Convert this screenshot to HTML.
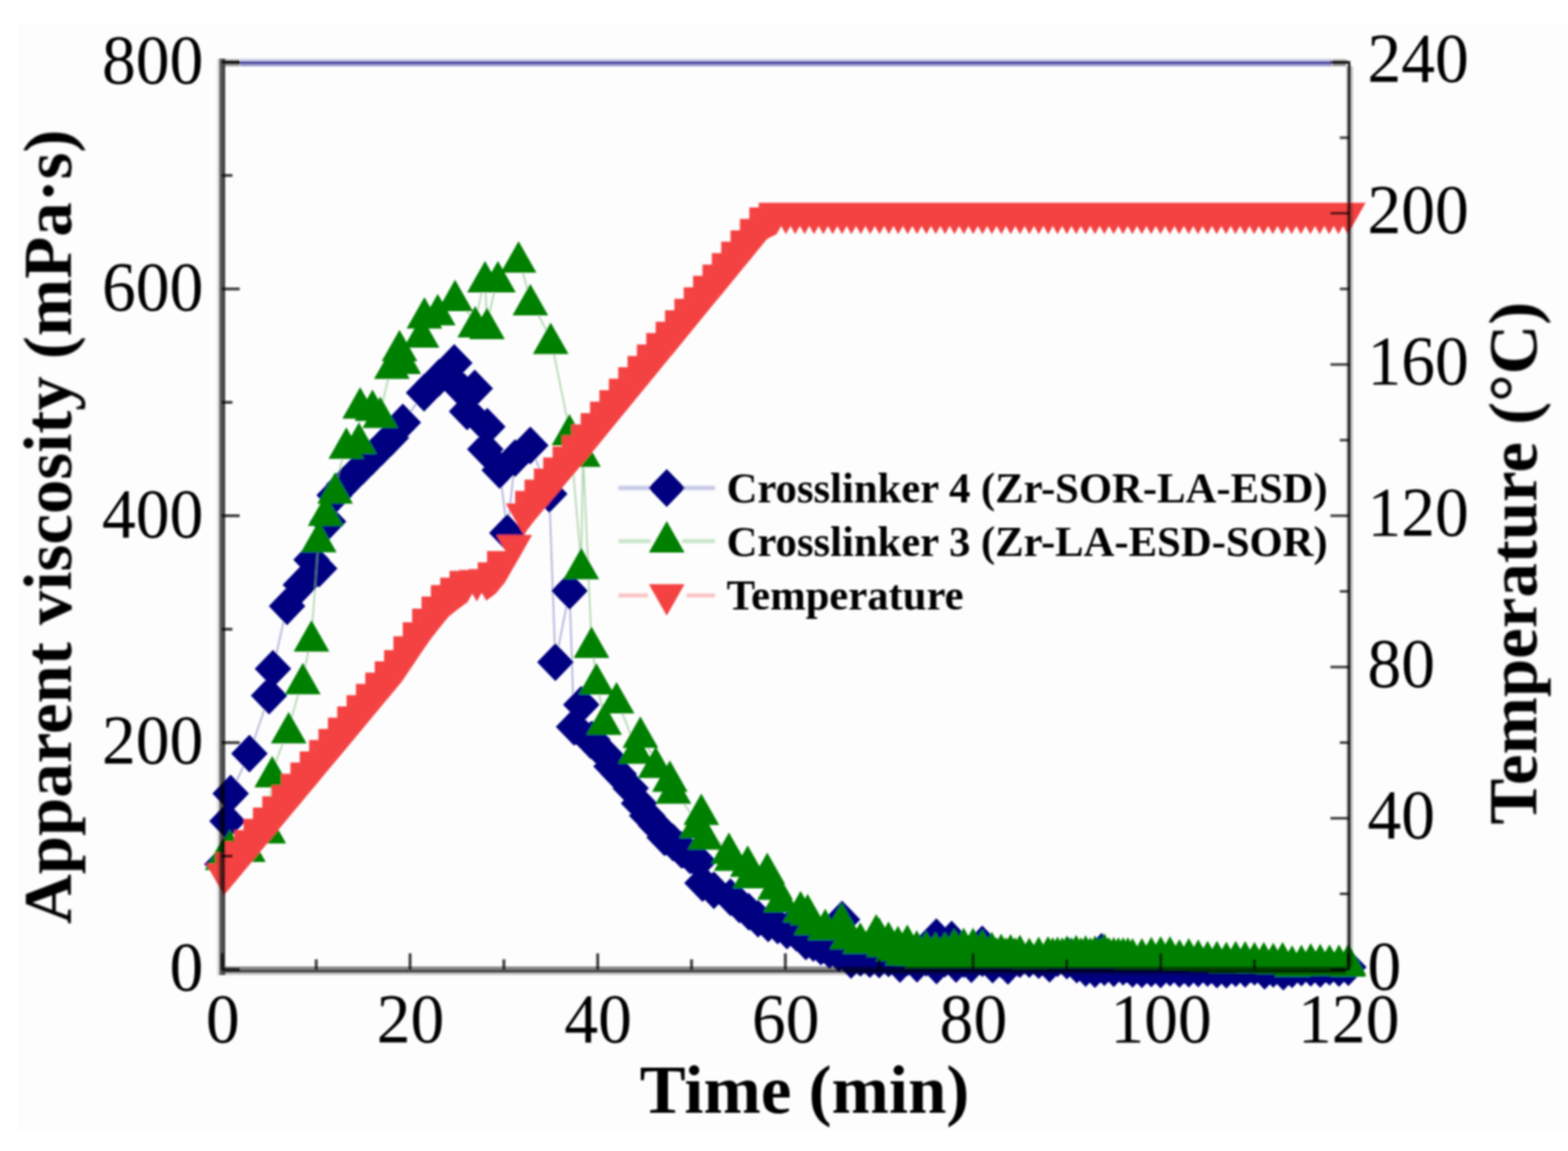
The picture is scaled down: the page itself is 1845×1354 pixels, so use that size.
<!DOCTYPE html>
<html><head><meta charset="utf-8"><title>Viscosity and temperature vs time</title>
<style>
html,body{margin:0;padding:0;background:#fff;}
body{width:1845px;height:1354px;overflow:hidden;}
svg{display:block;}
text{font-family:"Liberation Serif","Times New Roman",serif;fill:#000;}
</style></head><body>
<svg width="1845" height="1354" viewBox="0 0 1845 1354">
<rect x="0" y="0" width="1845" height="1354" fill="#fff"/>
<defs><filter id="soft"><feGaussianBlur stdDeviation="1.0"/></filter></defs>
<rect x="21" y="29" width="1824" height="1301" fill="#fdfdfd"/>
<g filter="url(#soft)">

<path d="M261.7 1016.8L267.7 965.9L271.4 933.6L293.5 886.5L316.6 818.3L321.2 786.8L337.8 713.1L354.0 688.0L366.6 658.4L375.6 668.7L386.0 613.6L393.8 582.6L405.0 570.0L416.0 559.0L427.0 548.0L438.0 537.0L449.0 526.0L460.0 515.0L474.0 497.0L499.0 462.0L516.5 444.5L534.5 427.0L543.0 458.0L549.6 484.0L558.6 457.0L571.0 528.5L573.4 502.0L588.0 553.0L597.0 627.0L606.0 539.0L624.0 524.0L646.3 581.0L653.5 779.0L670.2 695.0L675.5 855.0L684.0 829.0L695.0 870.8L697.0 870.0L714.0 889.3L719.5 901.5L728.0 910.6L742.0 927.3L752.0 945.1L761.5 959.5L772.0 971.2L782.0 985.0L792.0 991.1L802.0 999.7L812.0 1006.3L822.0 1013.4L826.6 1038.7L840.0 1047.3L859.5 1055.5L870.0 1063.9L881.0 1072.5L892.0 1080.8L903.9 1086.3L915.0 1088.6L926.0 1094.6L937.0 1097.2L948.2 1107.4L957.0 1109.2L965.9 1113.4L976.0 1117.5L987.0 1121.2L990.8 1081.7L1001.4 1129.3L1012.4 1126.7L1023.5 1128.3L1034.5 1128.6L1045.5 1127.5L1056.6 1128.2L1059.0 1133.9L1067.6 1126.3L1078.7 1126.2L1079.0 1133.7L1089.7 1126.8L1100.7 1128.7L1101.8 1102.6L1102.0 1135.8L1111.8 1127.7L1119.8 1105.4L1122.8 1127.3L1125.0 1133.9L1133.9 1128.3L1143.0 1134.2L1144.9 1127.8L1155.8 1111.1L1155.9 1127.2L1167.0 1129.2L1168.0 1134.7L1178.0 1128.8L1186.0 1136.1L1189.1 1127.0L1198.5 1127.0L1200.1 1128.3L1211.1 1128.1L1222.2 1129.5L1233.2 1128.9L1235.0 1133.7L1244.3 1127.2L1255.3 1129.9L1256.4 1124.4L1266.3 1126.5L1267.0 1134.8L1277.4 1138.7L1284.0 1135.1L1288.4 1140.0L1296.2 1119.7L1299.5 1137.6L1310.5 1139.0L1321.5 1137.2L1332.6 1139.7L1343.6 1140.1L1354.7 1139.3L1365.7 1140.5L1376.7 1138.3L1387.8 1139.8L1398.8 1139.4L1409.9 1139.3L1420.9 1138.8L1431.9 1140.4L1443.0 1140.8L1454.0 1138.9L1465.1 1139.7L1476.1 1137.2L1487.1 1139.8L1488.0 1142.0L1498.2 1139.6L1509.2 1141.0L1510.0 1143.0L1520.3 1140.3L1531.3 1138.1L1542.3 1138.5L1553.4 1139.7L1564.4 1137.1L1575.5 1138.8L1586.5 1137.7" fill="none" stroke="#8080c8" stroke-width="2" stroke-opacity="0.6"/>
<path fill="#000080" d="M261.7 994.5L283.2 1016.8L261.7 1039.1L240.2 1016.8ZM267.7 943.6L289.2 965.9L267.7 988.2L246.2 965.9ZM271.4 911.3L292.9 933.6L271.4 955.9L249.9 933.6ZM293.5 864.2L315.0 886.5L293.5 908.8L272.0 886.5ZM316.6 796.0L338.1 818.3L316.6 840.6L295.1 818.3ZM321.2 764.5L342.7 786.8L321.2 809.1L299.7 786.8ZM337.8 690.8L359.3 713.1L337.8 735.4L316.3 713.1ZM354.0 665.7L375.5 688.0L354.0 710.3L332.5 688.0ZM366.6 636.1L388.1 658.4L366.6 680.7L345.1 658.4ZM375.6 646.4L397.1 668.7L375.6 691.0L354.1 668.7ZM386.0 591.3L407.5 613.6L386.0 635.9L364.5 613.6ZM393.8 560.3L415.3 582.6L393.8 604.9L372.3 582.6ZM405.0 547.7L426.5 570.0L405.0 592.3L383.5 570.0ZM416.0 536.7L437.5 559.0L416.0 581.3L394.5 559.0ZM427.0 525.7L448.5 548.0L427.0 570.3L405.5 548.0ZM438.0 514.7L459.5 537.0L438.0 559.3L416.5 537.0ZM449.0 503.7L470.5 526.0L449.0 548.3L427.5 526.0ZM460.0 492.7L481.5 515.0L460.0 537.3L438.5 515.0ZM474.0 474.7L495.5 497.0L474.0 519.3L452.5 497.0ZM499.0 439.7L520.5 462.0L499.0 484.3L477.5 462.0ZM516.5 422.2L538.0 444.5L516.5 466.8L495.0 444.5ZM534.5 404.7L556.0 427.0L534.5 449.3L513.0 427.0ZM543.0 435.7L564.5 458.0L543.0 480.3L521.5 458.0ZM549.6 461.7L571.1 484.0L549.6 506.3L528.1 484.0ZM558.6 434.7L580.1 457.0L558.6 479.3L537.1 457.0ZM571.0 506.2L592.5 528.5L571.0 550.8L549.5 528.5ZM573.4 479.7L594.9 502.0L573.4 524.3L551.9 502.0ZM588.0 530.7L609.5 553.0L588.0 575.3L566.5 553.0ZM597.0 604.7L618.5 627.0L597.0 649.3L575.5 627.0ZM606.0 516.7L627.5 539.0L606.0 561.3L584.5 539.0ZM624.0 501.7L645.5 524.0L624.0 546.3L602.5 524.0ZM646.3 558.7L667.8 581.0L646.3 603.3L624.8 581.0ZM653.5 756.7L675.0 779.0L653.5 801.3L632.0 779.0ZM670.2 672.7L691.7 695.0L670.2 717.3L648.7 695.0ZM675.5 832.7L697.0 855.0L675.5 877.3L654.0 855.0ZM684.0 806.7L705.5 829.0L684.0 851.3L662.5 829.0ZM695.0 848.5L716.5 870.8L695.0 893.1L673.5 870.8ZM697.0 847.7L718.5 870.0L697.0 892.3L675.5 870.0ZM714.0 867.0L735.5 889.3L714.0 911.6L692.5 889.3ZM719.5 879.2L741.0 901.5L719.5 923.8L698.0 901.5ZM728.0 888.3L749.5 910.6L728.0 932.9L706.5 910.6ZM742.0 905.0L763.5 927.3L742.0 949.6L720.5 927.3ZM752.0 922.8L773.5 945.1L752.0 967.4L730.5 945.1ZM761.5 937.2L783.0 959.5L761.5 981.8L740.0 959.5ZM772.0 948.9L793.5 971.2L772.0 993.5L750.5 971.2ZM782.0 962.7L803.5 985.0L782.0 1007.3L760.5 985.0ZM792.0 968.8L813.5 991.1L792.0 1013.4L770.5 991.1ZM802.0 977.4L823.5 999.7L802.0 1022.0L780.5 999.7ZM812.0 984.0L833.5 1006.3L812.0 1028.6L790.5 1006.3ZM822.0 991.1L843.5 1013.4L822.0 1035.7L800.5 1013.4ZM826.6 1016.4L848.1 1038.7L826.6 1061.0L805.1 1038.7ZM840.0 1025.0L861.5 1047.3L840.0 1069.6L818.5 1047.3ZM859.5 1033.2L881.0 1055.5L859.5 1077.8L838.0 1055.5ZM870.0 1041.6L891.5 1063.9L870.0 1086.2L848.5 1063.9ZM881.0 1050.2L902.5 1072.5L881.0 1094.8L859.5 1072.5ZM892.0 1058.5L913.5 1080.8L892.0 1103.1L870.5 1080.8ZM903.9 1064.0L925.4 1086.3L903.9 1108.6L882.4 1086.3ZM915.0 1066.3L936.5 1088.6L915.0 1110.9L893.5 1088.6ZM926.0 1072.3L947.5 1094.6L926.0 1116.9L904.5 1094.6ZM937.0 1074.9L958.5 1097.2L937.0 1119.5L915.5 1097.2ZM948.2 1085.1L969.7 1107.4L948.2 1129.7L926.7 1107.4ZM957.0 1086.9L978.5 1109.2L957.0 1131.5L935.5 1109.2ZM965.9 1091.1L987.4 1113.4L965.9 1135.7L944.4 1113.4ZM976.0 1095.2L997.5 1117.5L976.0 1139.8L954.5 1117.5ZM987.0 1098.9L1008.5 1121.2L987.0 1143.5L965.5 1121.2ZM990.8 1059.4L1012.3 1081.7L990.8 1104.0L969.3 1081.7ZM1001.4 1107.0L1022.9 1129.3L1001.4 1151.6L979.9 1129.3ZM1012.4 1104.4L1033.9 1126.7L1012.4 1149.0L990.9 1126.7ZM1023.5 1106.0L1045.0 1128.3L1023.5 1150.6L1002.0 1128.3ZM1034.5 1106.3L1056.0 1128.6L1034.5 1150.9L1013.0 1128.6ZM1045.5 1105.2L1067.0 1127.5L1045.5 1149.8L1024.0 1127.5ZM1056.6 1105.9L1078.1 1128.2L1056.6 1150.5L1035.1 1128.2ZM1059.0 1111.6L1080.5 1133.9L1059.0 1156.2L1037.5 1133.9ZM1067.6 1104.0L1089.1 1126.3L1067.6 1148.6L1046.1 1126.3ZM1078.7 1103.9L1100.2 1126.2L1078.7 1148.5L1057.2 1126.2ZM1079.0 1111.4L1100.5 1133.7L1079.0 1156.0L1057.5 1133.7ZM1089.7 1104.5L1111.2 1126.8L1089.7 1149.1L1068.2 1126.8ZM1100.7 1106.4L1122.2 1128.7L1100.7 1151.0L1079.2 1128.7ZM1101.8 1080.3L1123.3 1102.6L1101.8 1124.9L1080.3 1102.6ZM1102.0 1113.5L1123.5 1135.8L1102.0 1158.1L1080.5 1135.8ZM1111.8 1105.4L1133.3 1127.7L1111.8 1150.0L1090.3 1127.7ZM1119.8 1083.1L1141.3 1105.4L1119.8 1127.7L1098.3 1105.4ZM1122.8 1105.0L1144.3 1127.3L1122.8 1149.6L1101.3 1127.3ZM1125.0 1111.6L1146.5 1133.9L1125.0 1156.2L1103.5 1133.9ZM1133.9 1106.0L1155.4 1128.3L1133.9 1150.6L1112.4 1128.3ZM1143.0 1111.9L1164.5 1134.2L1143.0 1156.5L1121.5 1134.2ZM1144.9 1105.5L1166.4 1127.8L1144.9 1150.1L1123.4 1127.8ZM1155.8 1088.8L1177.3 1111.1L1155.8 1133.4L1134.3 1111.1ZM1155.9 1104.9L1177.4 1127.2L1155.9 1149.5L1134.4 1127.2ZM1167.0 1106.9L1188.5 1129.2L1167.0 1151.5L1145.5 1129.2ZM1168.0 1112.4L1189.5 1134.7L1168.0 1157.0L1146.5 1134.7ZM1178.0 1106.5L1199.5 1128.8L1178.0 1151.1L1156.5 1128.8ZM1186.0 1113.8L1207.5 1136.1L1186.0 1158.4L1164.5 1136.1ZM1189.1 1104.7L1210.6 1127.0L1189.1 1149.3L1167.6 1127.0ZM1198.5 1104.7L1220.0 1127.0L1198.5 1149.3L1177.0 1127.0ZM1200.1 1106.0L1221.6 1128.3L1200.1 1150.6L1178.6 1128.3ZM1211.1 1105.8L1232.6 1128.1L1211.1 1150.4L1189.6 1128.1ZM1222.2 1107.2L1243.7 1129.5L1222.2 1151.8L1200.7 1129.5ZM1233.2 1106.6L1254.7 1128.9L1233.2 1151.2L1211.7 1128.9ZM1235.0 1111.4L1256.5 1133.7L1235.0 1156.0L1213.5 1133.7ZM1244.3 1104.9L1265.8 1127.2L1244.3 1149.5L1222.8 1127.2ZM1255.3 1107.6L1276.8 1129.9L1255.3 1152.2L1233.8 1129.9ZM1256.4 1102.1L1277.9 1124.4L1256.4 1146.7L1234.9 1124.4ZM1266.3 1104.2L1287.8 1126.5L1266.3 1148.8L1244.8 1126.5ZM1267.0 1112.5L1288.5 1134.8L1267.0 1157.1L1245.5 1134.8ZM1277.4 1116.4L1298.9 1138.7L1277.4 1161.0L1255.9 1138.7ZM1284.0 1112.8L1305.5 1135.1L1284.0 1157.4L1262.5 1135.1ZM1288.4 1117.7L1309.9 1140.0L1288.4 1162.3L1266.9 1140.0ZM1296.2 1097.4L1317.7 1119.7L1296.2 1142.0L1274.7 1119.7ZM1299.5 1115.3L1321.0 1137.6L1299.5 1159.9L1278.0 1137.6ZM1310.5 1116.7L1332.0 1139.0L1310.5 1161.3L1289.0 1139.0ZM1321.5 1114.9L1343.0 1137.2L1321.5 1159.5L1300.0 1137.2ZM1332.6 1117.4L1354.1 1139.7L1332.6 1162.0L1311.1 1139.7ZM1343.6 1117.8L1365.1 1140.1L1343.6 1162.4L1322.1 1140.1ZM1354.7 1117.0L1376.2 1139.3L1354.7 1161.6L1333.2 1139.3ZM1365.7 1118.2L1387.2 1140.5L1365.7 1162.8L1344.2 1140.5ZM1376.7 1116.0L1398.2 1138.3L1376.7 1160.6L1355.2 1138.3ZM1387.8 1117.5L1409.3 1139.8L1387.8 1162.1L1366.3 1139.8ZM1398.8 1117.1L1420.3 1139.4L1398.8 1161.7L1377.3 1139.4ZM1409.9 1117.0L1431.4 1139.3L1409.9 1161.6L1388.4 1139.3ZM1420.9 1116.5L1442.4 1138.8L1420.9 1161.1L1399.4 1138.8ZM1431.9 1118.1L1453.4 1140.4L1431.9 1162.7L1410.4 1140.4ZM1443.0 1118.5L1464.5 1140.8L1443.0 1163.1L1421.5 1140.8ZM1454.0 1116.6L1475.5 1138.9L1454.0 1161.2L1432.5 1138.9ZM1465.1 1117.4L1486.6 1139.7L1465.1 1162.0L1443.6 1139.7ZM1476.1 1114.9L1497.6 1137.2L1476.1 1159.5L1454.6 1137.2ZM1487.1 1117.5L1508.6 1139.8L1487.1 1162.1L1465.6 1139.8ZM1488.0 1119.7L1509.5 1142.0L1488.0 1164.3L1466.5 1142.0ZM1498.2 1117.3L1519.7 1139.6L1498.2 1161.9L1476.7 1139.6ZM1509.2 1118.7L1530.7 1141.0L1509.2 1163.3L1487.7 1141.0ZM1510.0 1120.7L1531.5 1143.0L1510.0 1165.3L1488.5 1143.0ZM1520.3 1118.0L1541.8 1140.3L1520.3 1162.6L1498.8 1140.3ZM1531.3 1115.8L1552.8 1138.1L1531.3 1160.4L1509.8 1138.1ZM1542.3 1116.2L1563.8 1138.5L1542.3 1160.8L1520.8 1138.5ZM1553.4 1117.4L1574.9 1139.7L1553.4 1162.0L1531.9 1139.7ZM1564.4 1114.8L1585.9 1137.1L1564.4 1159.4L1542.9 1137.1ZM1575.5 1116.5L1597.0 1138.8L1575.5 1161.1L1554.0 1138.8ZM1586.5 1115.4L1608.0 1137.7L1586.5 1160.0L1565.0 1137.7Z"/>
<path d="M262.0 1005.0L270.5 994.3L291.7 995.5L315.7 973.7L320.3 907.7L339.7 856.0L356.3 798.2L366.5 748.0L375.1 631.3L383.2 600.3L394.3 574.0L407.5 521.3L422.3 515.4L423.8 474.0L438.3 476.8L447.5 485.0L461.1 427.3L470.1 406.6L474.5 421.6L496.0 390.5L499.4 367.9L515.1 364.2L535.4 347.5L559.2 378.6L570.7 325.4L573.0 380.5L585.9 325.4L610.2 302.3L624.0 352.6L648.0 398.0L670.0 505.6L684.0 663.0L685.9 530.8L696.0 755.5L701.8 798.5L710.8 845.9L725.5 820.7L748.0 880.0L753.5 861.3L771.5 896.7L788.2 913.0L792.4 927.0L820.0 967.5L825.2 952.1L830.0 981.0L857.7 997.8L861.0 1006.0L879.8 1013.0L883.0 1026.5L902.8 1021.5L912.0 1040.0L919.0 1054.8L942.0 1066.6L950.3 1069.9L955.0 1081.4L971.0 1087.5L990.3 1080.0L997.0 1098.3L1012.3 1103.5L1031.0 1093.7L1034.5 1097.8L1040.0 1107.3L1045.5 1102.5L1051.1 1112.2L1056.6 1107.6L1062.1 1117.2L1067.6 1105.9L1073.1 1117.8L1078.7 1112.8L1084.2 1121.0L1089.7 1113.4L1095.2 1121.0L1100.7 1114.8L1106.3 1121.0L1111.8 1114.4L1117.3 1121.0L1122.8 1110.4L1128.3 1121.0L1133.9 1109.8L1139.4 1121.0L1144.9 1109.7L1150.4 1121.0L1155.9 1111.5L1161.5 1121.0L1167.0 1114.4L1172.5 1121.0L1178.0 1116.7L1183.5 1121.0L1189.1 1117.3L1194.6 1121.0L1200.1 1118.0L1211.1 1121.5L1222.2 1120.3L1233.2 1119.8L1238.7 1121.0L1244.3 1120.2L1249.8 1121.0L1255.3 1119.0L1260.8 1121.0L1266.3 1118.3L1271.9 1121.0L1277.4 1118.7L1282.9 1121.0L1288.4 1118.9L1293.9 1121.0L1299.5 1116.6L1305.0 1121.0L1310.5 1120.8L1316.0 1121.0L1321.5 1121.1L1327.1 1121.0L1332.6 1122.0L1343.6 1122.1L1354.7 1120.4L1365.7 1119.8L1376.7 1119.8L1387.8 1123.2L1398.8 1122.1L1409.9 1123.4L1420.9 1125.2L1431.9 1125.3L1443.0 1126.2L1454.0 1125.3L1465.1 1125.5L1476.1 1126.6L1487.1 1126.4L1498.2 1127.5L1509.2 1126.6L1520.3 1130.5L1531.3 1129.7L1542.3 1128.1L1553.4 1128.7L1564.4 1129.4L1575.5 1129.5L1586.3 1130.5L1586.5 1128.5" fill="none" stroke="#80c080" stroke-width="2" stroke-opacity="0.6"/>
<path fill="#008000" d="M262.0 986.5L283.0 1023.5L241.0 1023.5ZM270.5 975.8L291.5 1012.8L249.5 1012.8ZM291.7 977.0L312.7 1014.0L270.7 1014.0ZM315.7 955.2L336.7 992.2L294.7 992.2ZM320.3 889.2L341.3 926.2L299.3 926.2ZM339.7 837.5L360.7 874.5L318.7 874.5ZM356.3 779.7L377.3 816.7L335.3 816.7ZM366.5 729.5L387.5 766.5L345.5 766.5ZM375.1 612.8L396.1 649.8L354.1 649.8ZM383.2 581.8L404.2 618.8L362.2 618.8ZM394.3 555.5L415.3 592.5L373.3 592.5ZM407.5 502.8L428.5 539.8L386.5 539.8ZM422.3 496.9L443.3 533.9L401.3 533.9ZM423.8 455.5L444.8 492.5L402.8 492.5ZM438.3 458.3L459.3 495.3L417.3 495.3ZM447.5 466.5L468.5 503.5L426.5 503.5ZM461.1 408.8L482.1 445.8L440.1 445.8ZM470.1 388.1L491.1 425.1L449.1 425.1ZM474.5 403.1L495.5 440.1L453.5 440.1ZM496.0 372.0L517.0 409.0L475.0 409.0ZM499.4 349.4L520.4 386.4L478.4 386.4ZM515.1 345.7L536.1 382.7L494.1 382.7ZM535.4 329.0L556.4 366.0L514.4 366.0ZM559.2 360.1L580.2 397.1L538.2 397.1ZM570.7 306.9L591.7 343.9L549.7 343.9ZM573.0 362.0L594.0 399.0L552.0 399.0ZM585.9 306.9L606.9 343.9L564.9 343.9ZM610.2 283.8L631.2 320.8L589.2 320.8ZM624.0 334.1L645.0 371.1L603.0 371.1ZM648.0 379.5L669.0 416.5L627.0 416.5ZM670.0 487.1L691.0 524.1L649.0 524.1ZM684.0 644.5L705.0 681.5L663.0 681.5ZM685.9 512.3L706.9 549.3L664.9 549.3ZM696.0 737.0L717.0 774.0L675.0 774.0ZM701.8 780.0L722.8 817.0L680.8 817.0ZM710.8 827.4L731.8 864.4L689.8 864.4ZM725.5 802.2L746.5 839.2L704.5 839.2ZM748.0 861.5L769.0 898.5L727.0 898.5ZM753.5 842.8L774.5 879.8L732.5 879.8ZM771.5 878.2L792.5 915.2L750.5 915.2ZM788.2 894.5L809.2 931.5L767.2 931.5ZM792.4 908.5L813.4 945.5L771.4 945.5ZM820.0 949.0L841.0 986.0L799.0 986.0ZM825.2 933.6L846.2 970.6L804.2 970.6ZM830.0 962.5L851.0 999.5L809.0 999.5ZM857.7 979.3L878.7 1016.3L836.7 1016.3ZM861.0 987.5L882.0 1024.5L840.0 1024.5ZM879.8 994.5L900.8 1031.5L858.8 1031.5ZM883.0 1008.0L904.0 1045.0L862.0 1045.0ZM902.8 1003.0L923.8 1040.0L881.8 1040.0ZM912.0 1021.5L933.0 1058.5L891.0 1058.5ZM919.0 1036.3L940.0 1073.3L898.0 1073.3ZM942.0 1048.1L963.0 1085.1L921.0 1085.1ZM950.3 1051.4L971.3 1088.4L929.3 1088.4ZM955.0 1062.9L976.0 1099.9L934.0 1099.9ZM971.0 1069.0L992.0 1106.0L950.0 1106.0ZM990.3 1061.5L1011.3 1098.5L969.3 1098.5ZM997.0 1079.8L1018.0 1116.8L976.0 1116.8ZM1012.3 1085.0L1033.3 1122.0L991.3 1122.0ZM1031.0 1075.2L1052.0 1112.2L1010.0 1112.2ZM1034.5 1079.3L1055.5 1116.3L1013.5 1116.3ZM1040.0 1088.8L1061.0 1125.8L1019.0 1125.8ZM1045.5 1084.0L1066.5 1121.0L1024.5 1121.0ZM1051.1 1093.7L1072.1 1130.7L1030.1 1130.7ZM1056.6 1089.1L1077.6 1126.1L1035.6 1126.1ZM1062.1 1098.7L1083.1 1135.7L1041.1 1135.7ZM1067.6 1087.4L1088.6 1124.4L1046.6 1124.4ZM1073.1 1099.3L1094.1 1136.3L1052.1 1136.3ZM1078.7 1094.3L1099.7 1131.3L1057.7 1131.3ZM1084.2 1102.5L1105.2 1139.5L1063.2 1139.5ZM1089.7 1094.9L1110.7 1131.9L1068.7 1131.9ZM1095.2 1102.5L1116.2 1139.5L1074.2 1139.5ZM1100.7 1096.3L1121.7 1133.3L1079.7 1133.3ZM1106.3 1102.5L1127.3 1139.5L1085.3 1139.5ZM1111.8 1095.9L1132.8 1132.9L1090.8 1132.9ZM1117.3 1102.5L1138.3 1139.5L1096.3 1139.5ZM1122.8 1091.9L1143.8 1128.9L1101.8 1128.9ZM1128.3 1102.5L1149.3 1139.5L1107.3 1139.5ZM1133.9 1091.3L1154.9 1128.3L1112.9 1128.3ZM1139.4 1102.5L1160.4 1139.5L1118.4 1139.5ZM1144.9 1091.2L1165.9 1128.2L1123.9 1128.2ZM1150.4 1102.5L1171.4 1139.5L1129.4 1139.5ZM1155.9 1093.0L1176.9 1130.0L1134.9 1130.0ZM1161.5 1102.5L1182.5 1139.5L1140.5 1139.5ZM1167.0 1095.9L1188.0 1132.9L1146.0 1132.9ZM1172.5 1102.5L1193.5 1139.5L1151.5 1139.5ZM1178.0 1098.2L1199.0 1135.2L1157.0 1135.2ZM1183.5 1102.5L1204.5 1139.5L1162.5 1139.5ZM1189.1 1098.8L1210.1 1135.8L1168.1 1135.8ZM1194.6 1102.5L1215.6 1139.5L1173.6 1139.5ZM1200.1 1099.5L1221.1 1136.5L1179.1 1136.5ZM1211.1 1103.0L1232.1 1140.0L1190.1 1140.0ZM1222.2 1101.8L1243.2 1138.8L1201.2 1138.8ZM1233.2 1101.3L1254.2 1138.3L1212.2 1138.3ZM1238.7 1102.5L1259.7 1139.5L1217.7 1139.5ZM1244.3 1101.7L1265.3 1138.7L1223.3 1138.7ZM1249.8 1102.5L1270.8 1139.5L1228.8 1139.5ZM1255.3 1100.5L1276.3 1137.5L1234.3 1137.5ZM1260.8 1102.5L1281.8 1139.5L1239.8 1139.5ZM1266.3 1099.8L1287.3 1136.8L1245.3 1136.8ZM1271.9 1102.5L1292.9 1139.5L1250.9 1139.5ZM1277.4 1100.2L1298.4 1137.2L1256.4 1137.2ZM1282.9 1102.5L1303.9 1139.5L1261.9 1139.5ZM1288.4 1100.4L1309.4 1137.4L1267.4 1137.4ZM1293.9 1102.5L1314.9 1139.5L1272.9 1139.5ZM1299.5 1098.1L1320.5 1135.1L1278.5 1135.1ZM1305.0 1102.5L1326.0 1139.5L1284.0 1139.5ZM1310.5 1102.3L1331.5 1139.3L1289.5 1139.3ZM1316.0 1102.5L1337.0 1139.5L1295.0 1139.5ZM1321.5 1102.6L1342.5 1139.6L1300.5 1139.6ZM1327.1 1102.5L1348.1 1139.5L1306.1 1139.5ZM1332.6 1103.5L1353.6 1140.5L1311.6 1140.5ZM1343.6 1103.6L1364.6 1140.6L1322.6 1140.6ZM1354.7 1101.9L1375.7 1138.9L1333.7 1138.9ZM1365.7 1101.3L1386.7 1138.3L1344.7 1138.3ZM1376.7 1101.3L1397.7 1138.3L1355.7 1138.3ZM1387.8 1104.7L1408.8 1141.7L1366.8 1141.7ZM1398.8 1103.6L1419.8 1140.6L1377.8 1140.6ZM1409.9 1104.9L1430.9 1141.9L1388.9 1141.9ZM1420.9 1106.7L1441.9 1143.7L1399.9 1143.7ZM1431.9 1106.8L1452.9 1143.8L1410.9 1143.8ZM1443.0 1107.7L1464.0 1144.7L1422.0 1144.7ZM1454.0 1106.8L1475.0 1143.8L1433.0 1143.8ZM1465.1 1107.0L1486.1 1144.0L1444.1 1144.0ZM1476.1 1108.1L1497.1 1145.1L1455.1 1145.1ZM1487.1 1107.9L1508.1 1144.9L1466.1 1144.9ZM1498.2 1109.0L1519.2 1146.0L1477.2 1146.0ZM1509.2 1108.1L1530.2 1145.1L1488.2 1145.1ZM1520.3 1112.0L1541.3 1149.0L1499.3 1149.0ZM1531.3 1111.2L1552.3 1148.2L1510.3 1148.2ZM1542.3 1109.6L1563.3 1146.6L1521.3 1146.6ZM1553.4 1110.2L1574.4 1147.2L1532.4 1147.2ZM1564.4 1110.9L1585.4 1147.9L1543.4 1147.9ZM1575.5 1111.0L1596.5 1148.0L1554.5 1148.0ZM1586.3 1112.0L1607.3 1149.0L1565.3 1149.0ZM1586.5 1110.0L1607.5 1147.0L1565.5 1147.0Z"/>
<path fill="#f44343" d="M242.5 1016.1L284.5 1016.1L263.5 1053.1ZM253.5 1002.9L295.5 1002.9L274.5 1039.9ZM264.5 989.7L306.5 989.7L285.5 1026.7ZM275.6 976.5L317.6 976.5L296.6 1013.5ZM286.6 963.2L328.6 963.2L307.6 1000.2ZM297.6 950.0L339.6 950.0L318.6 987.0ZM308.6 936.8L350.6 936.8L329.6 973.8ZM319.6 923.6L361.6 923.6L340.6 960.6ZM330.7 910.3L372.7 910.3L351.7 947.3ZM341.7 897.1L383.7 897.1L362.7 934.1ZM352.7 883.9L394.7 883.9L373.7 920.9ZM363.7 870.6L405.7 870.6L384.7 907.6ZM374.7 857.4L416.7 857.4L395.7 894.4ZM385.8 844.2L427.8 844.2L406.8 881.2ZM396.8 831.0L438.8 831.0L417.8 868.0ZM407.8 817.7L449.8 817.7L428.8 854.7ZM418.8 804.5L460.8 804.5L439.8 841.5ZM429.8 791.3L471.8 791.3L450.8 828.3ZM440.9 778.1L482.9 778.1L461.9 815.1ZM451.9 764.8L493.9 764.8L472.9 801.8ZM462.9 748.4L504.9 748.4L483.9 785.4ZM473.9 731.9L515.9 731.9L494.9 768.9ZM484.9 715.9L526.9 715.9L505.9 752.9ZM496.0 701.7L538.0 701.7L517.0 738.7ZM507.0 688.3L549.0 688.3L528.0 725.3ZM518.0 679.4L560.0 679.4L539.0 716.4ZM529.0 671.4L571.0 671.4L550.0 708.4ZM540.0 670.5L582.0 670.5L561.0 707.5ZM551.1 669.6L593.1 669.6L572.1 706.6ZM562.1 661.6L604.1 661.6L583.1 698.6ZM573.1 648.3L615.1 648.3L594.1 685.3ZM584.1 629.2L626.1 629.2L605.1 666.2ZM595.1 592.3L637.1 592.3L616.1 629.3ZM606.2 577.6L648.2 577.6L627.2 614.6ZM617.2 564.2L659.2 564.2L638.2 601.2ZM628.2 551.2L670.2 551.2L649.2 588.2ZM639.2 538.3L681.2 538.3L660.2 575.3ZM650.2 525.3L692.2 525.3L671.2 562.3ZM661.3 512.3L703.3 512.3L682.3 549.3ZM672.3 499.3L714.3 499.3L693.3 536.3ZM683.3 485.9L725.3 485.9L704.3 522.9ZM694.3 472.4L736.3 472.4L715.3 509.4ZM705.3 459.0L747.3 459.0L726.3 496.0ZM716.4 445.5L758.4 445.5L737.4 482.5ZM727.4 432.1L769.4 432.1L748.4 469.1ZM738.4 418.7L780.4 418.7L759.4 455.7ZM749.4 405.2L791.4 405.2L770.4 442.2ZM760.4 391.8L802.4 391.8L781.4 428.8ZM771.5 378.4L813.5 378.4L792.5 415.4ZM782.5 364.9L824.5 364.9L803.5 401.9ZM793.5 351.5L835.5 351.5L814.5 388.5ZM804.5 338.0L846.5 338.0L825.5 375.0ZM815.5 324.6L857.5 324.6L836.5 361.6ZM826.6 311.2L868.6 311.2L847.6 348.2ZM837.6 297.7L879.6 297.7L858.6 334.7ZM848.6 284.3L890.6 284.3L869.6 321.3ZM859.6 270.9L901.6 270.9L880.6 307.9ZM870.6 257.4L912.6 257.4L891.6 294.4ZM881.7 244.0L923.7 244.0L902.7 281.0ZM892.7 238.6L934.7 238.6L913.7 275.6ZM903.7 238.6L945.7 238.6L924.7 275.6ZM914.7 238.6L956.7 238.6L935.7 275.6ZM925.7 238.6L967.7 238.6L946.7 275.6ZM936.8 238.6L978.8 238.6L957.8 275.6ZM947.8 238.6L989.8 238.6L968.8 275.6ZM958.8 238.6L1000.8 238.6L979.8 275.6ZM969.8 238.6L1011.8 238.6L990.8 275.6ZM980.8 238.6L1022.8 238.6L1001.8 275.6ZM991.9 238.6L1033.9 238.6L1012.9 275.6ZM1002.9 238.6L1044.9 238.6L1023.9 275.6ZM1013.9 238.6L1055.9 238.6L1034.9 275.6ZM1024.9 238.6L1066.9 238.6L1045.9 275.6ZM1035.9 238.6L1077.9 238.6L1056.9 275.6ZM1047.0 238.6L1089.0 238.6L1068.0 275.6ZM1058.0 238.6L1100.0 238.6L1079.0 275.6ZM1069.0 238.6L1111.0 238.6L1090.0 275.6ZM1080.0 238.6L1122.0 238.6L1101.0 275.6ZM1091.0 238.6L1133.0 238.6L1112.0 275.6ZM1102.1 238.6L1144.1 238.6L1123.1 275.6ZM1113.1 238.6L1155.1 238.6L1134.1 275.6ZM1124.1 238.6L1166.1 238.6L1145.1 275.6ZM1135.1 238.6L1177.1 238.6L1156.1 275.6ZM1146.1 238.6L1188.1 238.6L1167.1 275.6ZM1157.2 238.6L1199.2 238.6L1178.2 275.6ZM1168.2 238.6L1210.2 238.6L1189.2 275.6ZM1179.2 238.6L1221.2 238.6L1200.2 275.6ZM1190.2 238.6L1232.2 238.6L1211.2 275.6ZM1201.2 238.6L1243.2 238.6L1222.2 275.6ZM1212.3 238.6L1254.3 238.6L1233.3 275.6ZM1223.3 238.6L1265.3 238.6L1244.3 275.6ZM1234.3 238.6L1276.3 238.6L1255.3 275.6ZM1245.3 238.6L1287.3 238.6L1266.3 275.6ZM1256.3 238.6L1298.3 238.6L1277.3 275.6ZM1267.4 238.6L1309.4 238.6L1288.4 275.6ZM1278.4 238.6L1320.4 238.6L1299.4 275.6ZM1289.4 238.6L1331.4 238.6L1310.4 275.6ZM1300.4 238.6L1342.4 238.6L1321.4 275.6ZM1311.4 238.6L1353.4 238.6L1332.4 275.6ZM1322.5 238.6L1364.5 238.6L1343.5 275.6ZM1333.5 238.6L1375.5 238.6L1354.5 275.6ZM1344.5 238.6L1386.5 238.6L1365.5 275.6ZM1355.5 238.6L1397.5 238.6L1376.5 275.6ZM1366.5 238.6L1408.5 238.6L1387.5 275.6ZM1377.6 238.6L1419.6 238.6L1398.6 275.6ZM1388.6 238.6L1430.6 238.6L1409.6 275.6ZM1399.6 238.6L1441.6 238.6L1420.6 275.6ZM1410.6 238.6L1452.6 238.6L1431.6 275.6ZM1421.6 238.6L1463.6 238.6L1442.6 275.6ZM1432.7 238.6L1474.7 238.6L1453.7 275.6ZM1443.7 238.6L1485.7 238.6L1464.7 275.6ZM1454.7 238.6L1496.7 238.6L1475.7 275.6ZM1465.7 238.6L1507.7 238.6L1486.7 275.6ZM1476.7 238.6L1518.7 238.6L1497.7 275.6ZM1487.8 238.6L1529.8 238.6L1508.8 275.6ZM1498.8 238.6L1540.8 238.6L1519.8 275.6ZM1509.8 238.6L1551.8 238.6L1530.8 275.6ZM1520.8 238.6L1562.8 238.6L1541.8 275.6ZM1531.8 238.6L1573.8 238.6L1552.8 275.6ZM1542.9 238.6L1584.9 238.6L1563.9 275.6ZM1553.9 238.6L1595.9 238.6L1574.9 275.6ZM1564.9 238.6L1606.9 238.6L1585.9 275.6ZM253.5 1002.9L261.0 1016.1L253.5 1016.1ZM263.5 1053.1L272.8 1036.8L274.5 1039.9ZM264.5 989.7L272.0 1002.9L264.5 1002.9ZM274.5 1039.9L283.8 1023.6L285.5 1026.7ZM275.6 976.5L283.1 989.7L275.6 989.7ZM285.5 1026.7L294.8 1010.4L296.6 1013.5ZM286.6 963.2L294.1 976.5L286.6 976.5ZM296.6 1013.5L305.8 997.1L307.6 1000.2ZM297.6 950.0L305.1 963.2L297.6 963.2ZM307.6 1000.2L316.8 983.9L318.6 987.0ZM308.6 936.8L316.1 950.0L308.6 950.0ZM318.6 987.0L327.9 970.7L329.6 973.8ZM319.6 923.6L327.1 936.8L319.6 936.8ZM329.6 973.8L338.9 957.5L340.6 960.6ZM330.7 910.3L338.2 923.6L330.7 923.6ZM340.6 960.6L349.9 944.2L351.7 947.3ZM341.7 897.1L349.2 910.3L341.7 910.3ZM351.7 947.3L360.9 931.0L362.7 934.1ZM352.7 883.9L360.2 897.1L352.7 897.1ZM362.7 934.1L371.9 917.8L373.7 920.9ZM363.7 870.6L371.2 883.9L363.7 883.9ZM373.7 920.9L383.0 904.6L384.7 907.6ZM374.7 857.4L382.2 870.6L374.7 870.6ZM384.7 907.6L394.0 891.3L395.7 894.4ZM385.8 844.2L393.3 857.4L385.8 857.4ZM395.7 894.4L405.0 878.1L406.8 881.2ZM396.8 831.0L404.3 844.2L396.8 844.2ZM406.8 881.2L416.0 864.9L417.8 868.0ZM407.8 817.7L415.3 831.0L407.8 831.0ZM417.8 868.0L427.0 851.6L428.8 854.7ZM418.8 804.5L426.3 817.7L418.8 817.7ZM428.8 854.7L438.1 838.4L439.8 841.5ZM429.8 791.3L437.3 804.5L429.8 804.5ZM439.8 841.5L449.1 825.2L450.8 828.3ZM440.9 778.1L448.4 791.3L440.9 791.3ZM450.8 828.3L460.1 812.0L461.9 815.1ZM451.9 764.8L459.4 778.1L451.9 778.1ZM461.9 815.1L471.1 798.7L472.9 801.8ZM462.9 748.4L472.2 764.8L462.9 764.8ZM472.9 801.8L483.1 783.9L483.9 785.4ZM473.9 731.9L483.3 748.4L473.9 748.4ZM483.9 785.4L494.1 767.4L494.9 768.9ZM484.9 715.9L494.0 731.9L484.9 731.9ZM494.9 768.9L505.0 751.2L505.9 752.9ZM496.0 701.7L504.0 715.9L496.0 715.9ZM505.9 752.9L515.5 736.1L517.0 738.7ZM507.0 688.3L514.6 701.7L507.0 701.7ZM517.0 738.7L526.3 722.3L528.0 725.3ZM518.0 679.4L523.0 688.3L518.0 688.3ZM528.0 725.3L536.0 711.2L539.0 716.4ZM529.0 671.4L533.6 679.4L529.0 679.4ZM539.0 716.4L546.8 702.7L550.0 708.4ZM562.1 661.6L566.6 669.6L562.1 669.6ZM572.1 706.6L579.8 692.9L583.1 698.6ZM573.1 648.3L580.7 661.6L573.1 661.6ZM583.1 698.6L592.4 682.3L594.1 685.3ZM606.2 577.6L614.5 592.3L606.2 592.3ZM616.1 629.3L625.8 612.2L627.2 614.6ZM617.2 564.2L624.8 577.6L617.2 577.6ZM627.2 614.6L636.5 598.2L638.2 601.2ZM628.2 551.2L635.6 564.2L628.2 564.2ZM638.2 601.2L647.4 585.0L649.2 588.2ZM639.2 538.3L646.6 551.2L639.2 551.2ZM649.2 588.2L658.4 572.0L660.2 575.3ZM650.2 525.3L657.6 538.3L650.2 538.3ZM660.2 575.3L669.4 559.1L671.2 562.3ZM661.3 512.3L668.6 525.3L661.3 525.3ZM671.2 562.3L680.4 546.1L682.3 549.3ZM672.3 499.3L679.7 512.3L672.3 512.3ZM682.3 549.3L691.5 533.1L693.3 536.3ZM683.3 485.9L690.9 499.3L683.3 499.3ZM693.3 536.3L702.6 519.9L704.3 522.9ZM694.3 472.4L701.9 485.9L694.3 485.9ZM704.3 522.9L713.6 506.4L715.3 509.4ZM705.3 459.0L713.0 472.4L705.3 472.4ZM715.3 509.4L724.6 493.0L726.3 496.0ZM716.4 445.5L724.0 459.0L716.4 459.0ZM726.3 496.0L735.7 479.6L737.4 482.5ZM727.4 432.1L735.0 445.5L727.4 445.5ZM737.4 482.5L746.7 466.1L748.4 469.1ZM738.4 418.7L746.0 432.1L738.4 432.1ZM748.4 469.1L757.7 452.7L759.4 455.7ZM749.4 405.2L757.0 418.7L749.4 418.7ZM759.4 455.7L768.7 439.2L770.4 442.2ZM760.4 391.8L768.1 405.2L760.4 405.2ZM770.4 442.2L779.7 425.8L781.4 428.8ZM771.5 378.4L779.1 391.8L771.5 391.8ZM781.4 428.8L790.8 412.4L792.5 415.4ZM782.5 364.9L790.1 378.4L782.5 378.4ZM792.5 415.4L801.8 398.9L803.5 401.9ZM793.5 351.5L801.1 364.9L793.5 364.9ZM803.5 401.9L812.8 385.5L814.5 388.5ZM804.5 338.0L812.1 351.5L804.5 351.5ZM814.5 388.5L823.8 372.1L825.5 375.0ZM815.5 324.6L823.2 338.0L815.5 338.0ZM825.5 375.0L834.8 358.6L836.5 361.6ZM826.6 311.2L834.2 324.6L826.6 324.6ZM836.5 361.6L845.9 345.2L847.6 348.2ZM837.6 297.7L845.2 311.2L837.6 311.2ZM847.6 348.2L856.9 331.7L858.6 334.7ZM848.6 284.3L856.2 297.7L848.6 297.7ZM858.6 334.7L867.9 318.3L869.6 321.3ZM859.6 270.9L867.2 284.3L859.6 284.3ZM869.6 321.3L878.9 304.9L880.6 307.9ZM870.6 257.4L878.3 270.9L870.6 270.9ZM880.6 307.9L889.9 291.4L891.6 294.4ZM881.7 244.0L889.3 257.4L881.7 257.4ZM891.6 294.4L901.0 278.0L902.7 281.0ZM892.7 238.6L895.7 244.0L892.7 244.0ZM902.7 281.0L909.7 268.6L913.7 275.6Z"/>
<g shape-rendering="crispEdges">
<rect x="255" y="69" width="3.4" height="1078" fill="#000" fill-opacity="0.11"/>
<rect x="258.4" y="69" width="2.8" height="1078" fill="#000" fill-opacity="0.61"/>
<rect x="261.2" y="69" width="3.4" height="1078" fill="#000" fill-opacity="0.72"/>
<rect x="264.6" y="1137.4" width="1319" height="3.3" fill="#000" fill-opacity="0.47"/>
<rect x="264.6" y="1140.7" width="1319" height="2.9" fill="#000" fill-opacity="0.73"/>
<rect x="264.6" y="1143.6" width="1319" height="3.2" fill="#000" fill-opacity="0.22"/>
<rect x="1583.5" y="77.7" width="2.6" height="1059.7" fill="#000" fill-opacity="0.26"/>
<rect x="1586.1" y="75" width="2.9" height="1065.7" fill="#000" fill-opacity="0.88"/>
<rect x="1589" y="77.7" width="2.8" height="1059.7" fill="#000" fill-opacity="0.23"/>
<rect x="264.6" y="69.2" width="1319" height="2.7" fill="#000" fill-opacity="0.18"/>
<rect x="264.6" y="71.9" width="1324.4" height="3.1" fill="#000" fill-opacity="0.8"/>
<rect x="264.6" y="75" width="1319" height="2.7" fill="#000" fill-opacity="0.4"/>
<rect x="282.5" y="69.2" width="1284.5" height="2.7" fill="#d0d0e8"/>
<rect x="282.5" y="71.9" width="1284.5" height="3.1" fill="#34349e"/>
<rect x="282.5" y="75" width="1284.5" height="2.7" fill="#9898cc"/>
</g>
<g fill="#000" fill-opacity="0.76"><rect x="261" y="1138.8" width="21" height="3.4"/><rect x="261" y="1005.4" width="12.5" height="3.4"/><rect x="261" y="871.9" width="21" height="3.4"/><rect x="261" y="738.5" width="12.5" height="3.4"/><rect x="261" y="605.0" width="21" height="3.4"/><rect x="261" y="471.6" width="12.5" height="3.4"/><rect x="261" y="338.2" width="21" height="3.4"/><rect x="261" y="204.7" width="12.5" height="3.4"/><rect x="261" y="71.3" width="21" height="3.4"/><rect x="260.0" y="1121.5" width="3.4" height="19"/><rect x="370.4" y="1128.5" width="3.4" height="12"/><rect x="480.8" y="1121.5" width="3.4" height="19"/><rect x="591.2" y="1128.5" width="3.4" height="12"/><rect x="701.6" y="1121.5" width="3.4" height="19"/><rect x="812.0" y="1128.5" width="3.4" height="12"/><rect x="922.4" y="1121.5" width="3.4" height="19"/><rect x="1032.8" y="1128.5" width="3.4" height="12"/><rect x="1143.2" y="1121.5" width="3.4" height="19"/><rect x="1253.6" y="1128.5" width="3.4" height="12"/><rect x="1364.0" y="1121.5" width="3.4" height="19"/><rect x="1474.4" y="1128.5" width="3.4" height="12"/><rect x="1584.8" y="1121.5" width="3.4" height="19"/><rect x="1565.5" y="1139.0" width="22" height="3"/><rect x="1576.5" y="1050.0" width="11" height="3"/><rect x="1565.5" y="961.1" width="22" height="3"/><rect x="1576.5" y="872.1" width="11" height="3"/><rect x="1565.5" y="783.2" width="22" height="3"/><rect x="1576.5" y="694.2" width="11" height="3"/><rect x="1565.5" y="605.2" width="22" height="3"/><rect x="1576.5" y="516.3" width="11" height="3"/><rect x="1565.5" y="427.3" width="22" height="3"/><rect x="1576.5" y="338.4" width="11" height="3"/><rect x="1565.5" y="249.4" width="22" height="3"/><rect x="1576.5" y="160.5" width="11" height="3"/><rect x="1565.5" y="71.5" width="22" height="3"/></g>
<text text-anchor="end" font-size="79.6" transform="translate(239.4 1165.4) scale(1 1.047)">0</text><text text-anchor="end" font-size="79.6" transform="translate(239.4 898.5) scale(1 1.047)">200</text><text text-anchor="end" font-size="79.6" transform="translate(239.4 631.6) scale(1 1.047)">400</text><text text-anchor="end" font-size="79.6" transform="translate(239.4 364.8) scale(1 1.047)">600</text><text text-anchor="end" font-size="79.6" transform="translate(239.4 97.9) scale(1 1.047)">800</text><text text-anchor="middle" font-size="79.6" transform="translate(262.2 1226.3) scale(1 1.047)">0</text><text text-anchor="middle" font-size="79.6" transform="translate(483.0 1226.3) scale(1 1.047)">20</text><text text-anchor="middle" font-size="79.6" transform="translate(703.8 1226.3) scale(1 1.047)">40</text><text text-anchor="middle" font-size="79.6" transform="translate(924.6 1226.3) scale(1 1.047)">60</text><text text-anchor="middle" font-size="79.6" transform="translate(1145.4 1226.3) scale(1 1.047)">80</text><text text-anchor="middle" font-size="79.6" transform="translate(1366.2 1226.3) scale(1 1.047)">100</text><text text-anchor="middle" font-size="79.6" transform="translate(1587.0 1226.3) scale(1 1.047)">120</text><text font-size="79.6" transform="translate(1609 1163.7) scale(1 1.047)">0</text><text font-size="79.6" transform="translate(1609 985.8) scale(1 1.047)">40</text><text font-size="79.6" transform="translate(1609 807.9) scale(1 1.047)">80</text><text font-size="79.6" transform="translate(1609 630.0) scale(1 1.047)">120</text><text font-size="79.6" transform="translate(1609 452.0) scale(1 1.047)">160</text><text font-size="79.6" transform="translate(1609 274.1) scale(1 1.047)">200</text><text font-size="79.6" transform="translate(1609 96.2) scale(1 1.047)">240</text>
<text x="0" y="0" font-size="81" font-weight="bold" text-anchor="middle" transform="translate(83.4 619.7) rotate(-90)">Apparent viscosity (mPa·s)</text>
<text x="946.6" y="1308.5" font-size="81" font-weight="bold" text-anchor="middle">Time (min)</text>
<text x="0" y="0" font-size="81" font-weight="bold" text-anchor="middle" transform="translate(1807.6 662.5) rotate(-90)">Temperature (°C)</text>
<line x1="727.6" y1="574" x2="841.4" y2="574" stroke="#c8c8ea" stroke-width="5"/><path fill="#000080" d="M784.5 551.8L806.0 574.1L784.5 596.4L763.0 574.1Z"/><path d="M727.6 636.4H765.5M802.7 636.4H841.4" stroke="#cce8cc" stroke-width="5"/><path fill="#008000" d="M784.5 612.9L805.5 649.9L763.5 649.9Z"/><path d="M727.6 700.6H762.5M808 700.6H841.4" stroke="#fac8c8" stroke-width="5"/><path fill="#f44343" d="M763.5 687.3L805.5 687.3L784.5 724.3Z"/><text x="855" y="590.8" font-size="50.2" font-weight="bold">Crosslinker 4 (Zr-SOR-LA-ESD)</text><text x="855" y="653.8" font-size="50.2" font-weight="bold">Crosslinker 3 (Zr-LA-ESD-SOR)</text><text x="855" y="716.8" font-size="50.2" font-weight="bold">Temperature</text>
</g></svg></body></html>
